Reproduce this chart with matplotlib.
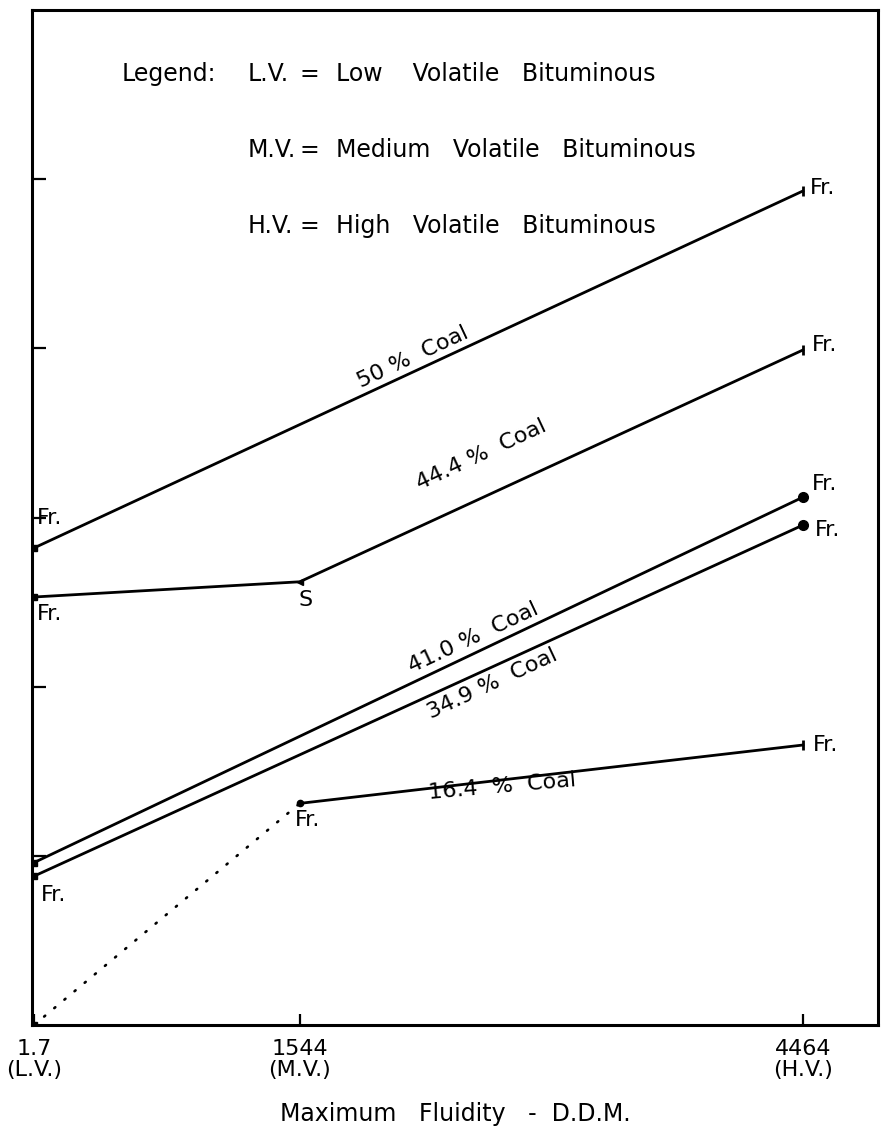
import matplotlib
matplotlib.use("Agg")
import matplotlib.pyplot as plt

# ---- data ----
fluidity = [1.7, 1544, 4464]
tick_labels = ["1.7\n(L.V.)", "1544\n(M.V.)", "4464\n(H.V.)"]

coal_50_x = [1.7, 4464]
coal_50_y = [2.82, 4.93]

coal_444_x = [1.7, 1544, 4464]
coal_444_y = [2.53, 2.62, 3.99]

coal_410_x = [1.7, 4464]
coal_410_y = [0.96, 3.12]

coal_349_x = [1.7, 4464]
coal_349_y = [0.88, 2.955]

coal_164_x = [1544, 4464]
coal_164_y = [1.31, 1.655]

extrap_164_x = [1.7, 1544]
extrap_164_y = [0.0, 1.31]

legend_abbr = ["L.V.", "M.V.", "H.V."]
legend_desc = ["Low    Volatile   Bituminous",
               "Medium   Volatile   Bituminous",
               "High   Volatile   Bituminous"]

plt.rcParams['font.family'] = ['DejaVu Sans']

W, H = 881, 1131
fig = plt.figure(figsize=(W / 100, H / 100), dpi=100)
L, R, T, B = 32, 878, 10, 1025
ax = fig.add_axes([L / W, 1 - B / H, (R - L) / W, (B - T) / H])
ax.set_xlim(-10, 4900)
ax.set_ylim(0, 6)

lw = 2.0
k = 'black'
ax.plot(coal_50_x, coal_50_y, color=k, lw=lw)
ax.plot(coal_444_x, coal_444_y, color=k, lw=lw)
ax.plot(coal_410_x, coal_410_y, color=k, lw=lw)
ax.plot(coal_349_x, coal_349_y, color=k, lw=lw)
ax.plot(coal_164_x, coal_164_y, color=k, lw=lw)
ax.plot(extrap_164_x, extrap_164_y, color=k, lw=1.9, ls=(0, (0.5, 4.5)), dash_capstyle='round')

# end markers
ax.plot([coal_410_x[-1]], [coal_410_y[-1]], 'o', color=k, ms=7)
ax.plot([coal_349_x[-1]], [coal_349_y[-1]], 'o', color=k, ms=7)
ax.plot([coal_410_x[0]], [coal_410_y[0]], 's', color=k, ms=5)
ax.plot([coal_349_x[0]], [coal_349_y[0]], 's', color=k, ms=5)
ax.plot([coal_50_x[0]], [coal_50_y[0]], 's', color=k, ms=4)
ax.plot([coal_444_x[0]], [coal_444_y[0]], 's', color=k, ms=5)
ax.plot([coal_164_x[0]], [coal_164_y[0]], 'o', color=k, ms=4.5)
ax.plot([coal_444_x[1]], [coal_444_y[1]], '<', color=k, ms=4)
ax.plot([extrap_164_x[0]], [extrap_164_y[0]], 's', color=k, ms=4)
for xx, yy in [(coal_50_x[-1], coal_50_y[-1]), (coal_444_x[-1], coal_444_y[-1]),
               (coal_164_x[-1], coal_164_y[-1])]:
    ax.plot([xx], [yy], '|', color=k, ms=7, mew=2.0)

fs = 16
# point labels
ax.text(coal_50_x[0] + 15, coal_50_y[0] + 0.12, "Fr.", fontsize=fs, va='bottom', ha='left')
ax.text(coal_444_x[0] + 15, coal_444_y[0] - 0.04, "Fr.", fontsize=fs, va='top', ha='left')
ax.text(coal_444_x[1] - 10, coal_444_y[1] - 0.05, "S", fontsize=fs, va='top', ha='left')
ax.text(coal_349_x[0] + 40, coal_349_y[0] - 0.05, "Fr.", fontsize=fs, va='top', ha='left')
ax.text(coal_164_x[0] - 30, coal_164_y[0] - 0.04, "Fr.", fontsize=fs, va='top', ha='left')
ax.text(coal_50_x[-1] + 40, coal_50_y[-1] + 0.02, "Fr.", fontsize=fs, va='center', ha='left')
ax.text(coal_444_x[-1] + 50, coal_444_y[-1] + 0.03, "Fr.", fontsize=fs, va='center', ha='left')
ax.text(coal_410_x[-1] + 50, coal_410_y[-1] + 0.08, "Fr.", fontsize=fs, va='center', ha='left')
ax.text(coal_349_x[-1] + 70, coal_349_y[-1] - 0.03, "Fr.", fontsize=fs, va='center', ha='left')
ax.text(coal_164_x[-1] + 60, coal_164_y[-1], "Fr.", fontsize=fs, va='center', ha='left')

# line labels
ax.text(2200, 3.95, "50 %  Coal", fontsize=fs, rotation=25, ha='center', va='center')
ax.text(2600, 3.37, "44.4 %  Coal", fontsize=fs, rotation=25, ha='center', va='center')
ax.text(2550, 2.29, "41.0 %  Coal", fontsize=fs, rotation=25, ha='center', va='center')
ax.text(2660, 2.02, "34.9 %  Coal", fontsize=fs, rotation=25, ha='center', va='center')
ax.text(2720, 1.41, "16.4  %  Coal", fontsize=fs, rotation=5, ha='center', va='center')

# legend text block (figure pixel coordinates)
def fx(px):
    return px / W
def fy(py):
    return 1 - py / H
lfs = 17
fig.text(fx(122), fy(74), "Legend:", fontsize=lfs, va='center', ha='left')
for i, abbr in enumerate(legend_abbr):
    yy = 74 + 76 * i
    fig.text(fx(248), fy(yy), abbr, fontsize=lfs, va='center', ha='left')
    fig.text(fx(300), fy(yy), "=", fontsize=lfs, va='center', ha='left')
    fig.text(fx(336), fy(yy), legend_desc[i], fontsize=lfs, va='center', ha='left')

# axes styling
for s in ax.spines.values():
    s.set_linewidth(2.2)
ax.set_xticks(fluidity)
ax.set_xticklabels(tick_labels, fontsize=fs, linespacing=1.05)
ax.tick_params(axis='x', direction='in', length=8, width=1.6, pad=10)
ax.set_yticks([1, 2, 3, 4, 5])
ax.set_yticklabels([])
ax.tick_params(axis='y', direction='in', length=10, width=1.6)
ax.set_xlabel("Maximum   Fluidity   -  D.D.M.", fontsize=17, labelpad=16)

fig.savefig("out.png", dpi=100)
